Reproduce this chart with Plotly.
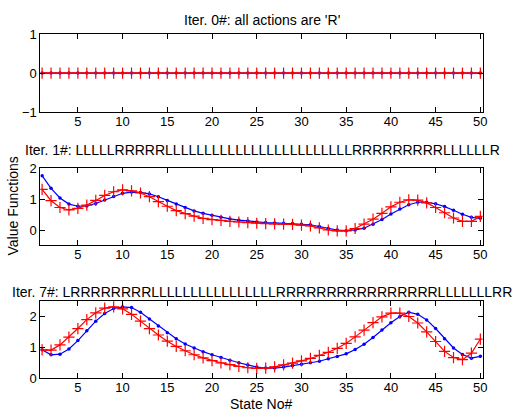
import plotly.graph_objects as go

states = list(range(1, 51))

# Iteration 0: all zeros
v0_blue = [0.0] * 50
v0_red = [0.0] * 50

# Iteration 1
v1_blue = [1.76, 1.35, 1.04, 0.84, 0.77, 0.78, 0.86, 0.97, 1.09, 1.19,
           1.23, 1.22, 1.17, 1.08, 0.96, 0.84, 0.73, 0.62, 0.54, 0.48,
           0.41, 0.36, 0.32, 0.29, 0.26, 0.24, 0.23, 0.22, 0.21, 0.19,
           0.17, 0.11, 0.05, 0.00, -0.02, 0.00, 0.06, 0.19, 0.34, 0.52,
           0.68, 0.82, 0.90, 0.90, 0.85, 0.76, 0.64, 0.51, 0.41, 0.38]
v1_red = [1.32, 0.95, 0.73, 0.65, 0.70, 0.81, 0.96, 1.12, 1.24, 1.30,
          1.27, 1.20, 1.08, 0.92, 0.77, 0.63, 0.53, 0.45, 0.38, 0.34,
          0.31, 0.28, 0.26, 0.24, 0.22, 0.21, 0.20, 0.19, 0.18, 0.16,
          0.13, 0.07, 0.00, -0.03, -0.03, 0.05, 0.19, 0.35, 0.54, 0.75,
          0.90, 0.98, 0.97, 0.88, 0.73, 0.56, 0.39, 0.28, 0.28, 0.44]

# Iteration 7
v7_blue = [0.92, 0.76, 0.78, 0.95, 1.22, 1.54, 1.85, 2.10, 2.26, 2.31,
           2.29, 2.14, 1.92, 1.69, 1.47, 1.28, 1.11, 0.98, 0.86, 0.76,
           0.67, 0.58, 0.50, 0.43, 0.36, 0.33, 0.33, 0.36, 0.41, 0.45,
           0.50, 0.55, 0.63, 0.70, 0.79, 0.93, 1.10, 1.32, 1.56, 1.80,
           2.00, 2.14, 2.07, 1.89, 1.61, 1.28, 0.98, 0.77, 0.65, 0.71]
v7_red = [0.92, 0.91, 1.08, 1.33, 1.61, 1.90, 2.12, 2.27, 2.31, 2.25,
          2.07, 1.85, 1.61, 1.40, 1.20, 1.03, 0.89, 0.76, 0.66, 0.57,
          0.50, 0.44, 0.38, 0.34, 0.32, 0.33, 0.37, 0.43, 0.49, 0.56,
          0.64, 0.74, 0.84, 0.97, 1.13, 1.34, 1.56, 1.80, 1.99, 2.11,
          2.11, 2.00, 1.79, 1.50, 1.19, 0.87, 0.67, 0.60, 0.81, 1.27]

titles = [
    "Iter. 0#: all actions are 'R'",
    "Iter. 1#: " + "L" * 5 + "R" * 5 + "L" * 24 + "R" * 9 + "L" * 6 + "R",
    "Iter. 7#: " + "L" + "R" * 8 + "L" * 16 + "R" * 16 + "L" * 7 + "RR",
]
x_ticks = [5, 10, 15, 20, 25, 30, 35, 40, 45, 50]
y_ticks = [[-1, 0, 1], [0, 1, 2], [0, 1, 2]]
y_ranges = [[-1, 1], [-0.5, 2], [0, 2.5]]
series = [(v0_blue, v0_red), (v1_blue, v1_red), (v7_blue, v7_red)]

W, H = 516, 419
x_dom = [40.7 / W, 487.3 / W]
y_px = [(28, 109), (167.3, 247.3), (305, 385)]
y_doms = [[1 - b / H, 1 - t / H] for t, b in y_px]

FONT = "Liberation Sans, Arial, sans-serif"
fig = go.Figure()
for i, (blue, red) in enumerate(series):
    k = "" if i == 0 else str(i + 1)
    fig.add_trace(go.Scatter(
        x=states, y=blue, mode="lines+markers", xaxis="x" + k, yaxis="y" + k,
        line=dict(color="#0000ff", width=1.2),
        marker=dict(symbol="circle", size=3.5, color="#0000ff"),
        showlegend=False))
    fig.add_trace(go.Scatter(
        x=states, y=red, mode="lines+markers", xaxis="x" + k, yaxis="y" + k,
        line=dict(color="#ff0000", width=1.2),
        marker=dict(symbol="cross-thin", size=8,
                    line=dict(color="#ff0000", width=1.2)),
        showlegend=False))

axis_common = dict(showline=True, linecolor="black", linewidth=1, mirror="allticks",
                   ticks="inside", ticklen=5, tickcolor="black", showgrid=False,
                   zeroline=False, tickfont=dict(family=FONT, size=13, color="black"))
layout = dict(width=W, height=H, margin=dict(l=0, r=0, t=0, b=0),
              paper_bgcolor="white", plot_bgcolor="white",
              font=dict(family=FONT, color="black"))
for i in range(3):
    k = "" if i == 0 else str(i + 1)
    layout["xaxis" + k] = dict(domain=x_dom, range=[0.8, 50.25], anchor="y" + k,
                               tickvals=x_ticks, ticklabelstandoff=-3, **axis_common)
    layout["yaxis" + k] = dict(domain=y_doms[i], range=y_ranges[i], anchor="x" + k,
                               tickvals=y_ticks[i], **axis_common)
fig.update_layout(**layout)

title_y = [13, 148, 296]
annotations = []
for t, ty in zip(titles, title_y):
    annotations.append(dict(text=t, x=265 / W, y=1 - ty / H, xref="paper", yref="paper",
                            showarrow=False, xanchor="center", yanchor="middle",
                            font=dict(family=FONT, size=14, color="black")))
annotations.append(dict(text="Value Functions", x=13 / W, y=1 - 206 / H, xref="paper",
                        yref="paper", showarrow=False, textangle=-90,
                        xanchor="center", yanchor="middle",
                        font=dict(family=FONT, size=14, color="black")))
annotations.append(dict(text="State No#", x=264 / W, y=1 - 412 / H, xref="paper",
                        yref="paper", showarrow=False, xanchor="center", yanchor="middle",
                        font=dict(family=FONT, size=14, color="black")))
fig.update_layout(annotations=annotations)

fig.write_html("out.html")
